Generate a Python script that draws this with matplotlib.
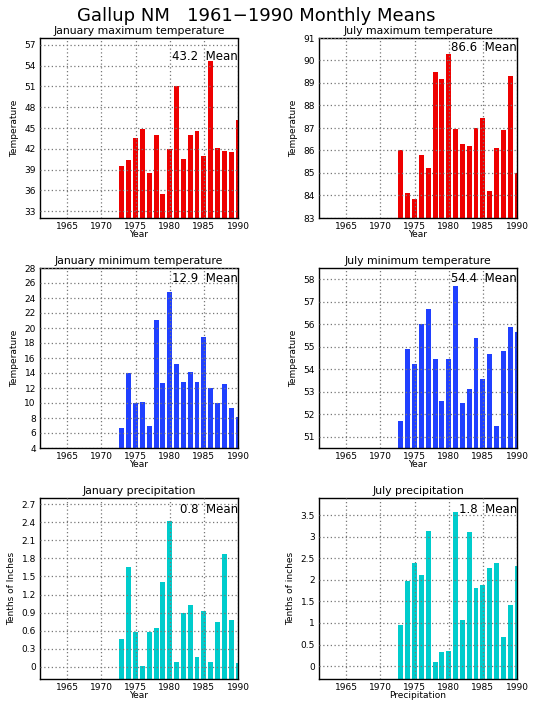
import matplotlib
matplotlib.use("Agg")
import matplotlib.pyplot as plt
import numpy as np

years = list(range(1973, 1991))

jan_max = [39.5, 40.4, 43.6, 44.8, 38.5, 44.0, 35.5, 41.9, 51.1, 40.5,
           44.0, 44.6, 41.0, 54.7, 42.1, 41.7, 41.5, 46.2]
jul_max = [86.04, 84.13, 83.83, 85.82, 85.24, 89.51, 89.17, 90.31, 86.97, 86.27,
           86.18, 87.0, 87.46, 84.19, 86.09, 86.93, 89.33, 85.01]
jan_min = [6.7, 14.04, 10.04, 10.18, 7.0, 21.11, 12.71, 24.84, 15.24, 12.84,
           14.18, 12.84, 18.76, 12.04, 10.04, 12.58, 9.38, 8.18]
jul_min = [51.69, 54.91, 54.24, 56.01, 56.69, 54.46, 52.59, 54.46, 57.72, 52.49,
           53.11, 55.38, 53.57, 54.67, 51.46, 54.81, 55.89, 55.65]
jan_prcp = [0.47, 1.65, 0.585, 0.02, 0.585, 0.65, 1.41, 2.42, 0.09, 0.90,
            1.02, 0.17, 0.93, 0.09, 0.75, 1.88, 0.77, 0.07]
jul_prcp = [0.96, 1.98, 2.40, 2.12, 3.14, 0.10, 0.33, 0.36, 3.58, 1.07,
            3.11, 1.82, 1.89, 2.28, 2.40, 0.68, 1.42, 2.33]

titles = ["January maximum temperature", "July maximum temperature",
          "January minimum temperature", "July minimum temperature",
          "January precipitation", "July precipitation"]
means = ["43.2", "86.6", "12.9", "54.4", "0.8", "1.8"]
ylabels = ["Temperature", "Temperature", "Temperature", "Temperature",
           "Tenths of Inches", "Tenths of inches"]
xlabels = ["Year", "Year", "Year", "Year", "Year", "Precipitation"]
yticks_list = [np.arange(33, 58, 3), np.arange(83, 92, 1), np.arange(4, 29, 2),
               np.arange(51, 59, 1), np.round(np.arange(0, 2.71, 0.3), 1),
               np.arange(0, 3.6, 0.5)]
ytick_labels = [None, None, None, None,
                ["0", "0.3", "0.6", "0.9", "1.2", "1.5", "1.8", "2.1", "2.4", "2.7"],
                ["0", "0.5", "1", "1.5", "2", "2.5", "3", "3.5"]]
ylims = [(32, 58), (83, 91), (4, 28), (50.5, 58.5), (-0.2, 2.8), (-0.3, 3.9)]
data = [jan_max, jul_max, jan_min, jul_min, jan_prcp, jul_prcp]
colors = ["#ee0000", "#ee0000", "#2040ff", "#2040ff", "#00cccc", "#00cccc"]
mean_y = [0.90, 0.945, 0.94, 0.94, 0.935, 0.935]

fig = plt.figure(figsize=(5.36, 7.11), dpi=100)
fig.text(0.478, 0.978, "Gallup NM   1961\u22121990 Monthly Means", ha="center",
         va="center", fontsize=13)

W, H = 536.0, 711.0
lefts = [40, 319]
rows = [(38, 218), (268, 448), (498, 679)]

for i in range(6):
    r, c = divmod(i, 2)
    top, bot = rows[r]
    ax = fig.add_axes([lefts[c] / W, 1 - bot / H, 198 / W, (bot - top) / H])
    lo = ylims[i][0]
    vals = np.array(data[i])
    ax.bar(years, vals - lo, bottom=lo, width=0.72, color=colors[i], zorder=2)
    ax.set_xlim(1961, 1990)
    ax.set_ylim(*ylims[i])
    ax.set_xticks([1965, 1970, 1975, 1980, 1985, 1990])
    ax.set_yticks(yticks_list[i])
    if ytick_labels[i] is not None:
        ax.set_yticklabels(ytick_labels[i])
    ax.tick_params(length=0, labelsize=6.5, pad=3)
    ax.grid(True, color="#777777", linestyle=(0, (1, 2)), linewidth=0.9, zorder=3)
    ax.set_axisbelow(False)
    for s in ax.spines.values():
        s.set_linewidth(1.0)
    if c == 0:
        ax.spines["right"].set_linestyle((0, (1, 1)))
    ax.set_title(titles[i], fontsize=7.8, pad=3)
    ax.set_ylabel(ylabels[i], fontsize=6.5, labelpad=4)
    ax.set_xlabel(xlabels[i], fontsize=6.5, labelpad=-1)
    ax.text(1.0, mean_y[i], means[i] + "  Mean", transform=ax.transAxes,
            ha="right", va="center", fontsize=8.5, zorder=5)

fig.savefig("out.png", dpi=100)
